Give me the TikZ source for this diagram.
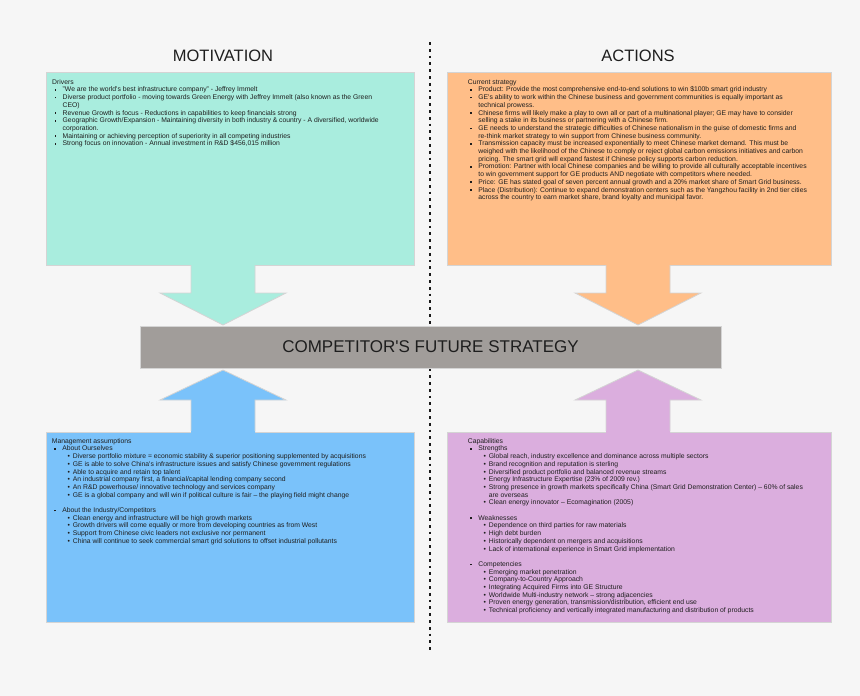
\documentclass[tikz,border=0pt]{standalone}
\usepackage{fontspec}
\setmainfont{Liberation Sans}
\usetikzlibrary{calc}
\definecolor{bgc}{HTML}{F6F6F6}
\definecolor{tealc}{HTML}{A9EDDE}
\definecolor{orngc}{HTML}{FFBE88}
\definecolor{bluc}{HTML}{7AC2FA}
\definecolor{purpc}{HTML}{DBAEDE}
\definecolor{barc}{HTML}{A19D9A}
\definecolor{edgec}{HTML}{D4D4D4}
\definecolor{txtc}{HTML}{1E1E1E}
\newcommand{\sqb}{\rule[1.2pt]{1.7pt}{1.7pt}}
\newcommand{\LA}[1]{\hspace*{2.3pt}\makebox[8.2pt][l]{\sqb}#1}
\newcommand{\LC}[1]{\hspace*{10.5pt}#1}
\newcommand{\LB}[1]{\hspace*{15.8pt}\makebox[5.2pt][l]{\textbullet}#1}
\newcommand{\LD}[1]{\hspace*{21pt}#1}
\newcommand{\firstline}{\rule{0pt}{5.5pt}}
\newcommand{\q}{\textquotesingle}
\newcommand{\blockarrow}[5]{%
  \fill[#1] ({#2-32},#3) -- ({#2-32},#4) -- ({#2-63},#4) -- (#2,#5) -- ({#2+63},#4) -- ({#2+32},#4) -- ({#2+32},#3) -- cycle;
  \draw[edgec, line width=0.8pt] ({#2-32},{#3+(#5-#3)/abs(#5-#3)*2}) -- ({#2-32},#4) -- ({#2-63},#4) -- (#2,#5) -- ({#2+63},#4) -- ({#2+32},#4) -- ({#2+32},{#3+(#5-#3)/abs(#5-#3)*2});
}
\begin{document}
\begin{tikzpicture}[x=1pt,y=-1pt,
  panel/.style={draw=edgec, line width=0.8pt, anchor=north west, inner sep=0pt},
  boxtext/.style={anchor=north west, inner sep=0pt, align=left, font=\fontsize{6.8}{7.7}\selectfont, text=txtc},
  title/.style={font=\fontsize{16.5}{20}\selectfont, text=txtc, inner sep=0pt},
  divider/.style={line width=1.6pt, dash pattern=on 2.8pt off 4pt, black!90}]
\fill[bgc] (0,0) rectangle (860,696);
\useasboundingbox (0,0) rectangle (860,696);

\node[title] (mot) at (223,56) {MOTIVATION};
\node[title] (act) at (638,56) {ACTIONS};

\coordinate (dtop) at (430,42);
\coordinate (dbot) at (430,650);
\draw[divider] (dtop) -- (dbot);

\node[panel, fill=tealc, minimum width=368pt, minimum height=193pt] (drv) at (46,71.5) {};
\node[panel, fill=orngc, minimum width=384pt, minimum height=193pt] (cur) at (446.5,71.5) {};
\node[panel, fill=bluc, minimum width=368pt, minimum height=190pt] (mgt) at (46,432) {};
\node[panel, fill=purpc, minimum width=384pt, minimum height=190pt] (cap) at (446.5,432) {};

\blockarrow{tealc}{223}{263}{293}{325}
\blockarrow{orngc}{638}{263}{293}{325}
\blockarrow{bluc}{223}{433}{400}{370}
\blockarrow{purpc}{638}{433}{400}{370}

\node[draw=edgec, line width=0.8pt, fill=barc, minimum width=581pt, minimum height=42pt, inner sep=0pt,
  font=\fontsize{17}{20}\selectfont, text=txtc] (cfs) at (430.5,347) {COMPETITOR\q S FUTURE STRATEGY};

\node[boxtext] (drvtext) at (52,78.5) {\firstline Drivers\\
\LA{"We are the world\q s best infrastructure company" - Jeffrey Immelt}\\
\LA{Diverse product portfolio - moving towards Green Energy with Jeffrey Immelt (also known as the Green}\\
\LC{CEO)}\\
\LA{Revenue Growth is focus - Reductions in capabilities to keep financials strong}\\
\LA{Geographic Growth/Expansion - Maintaining diversity in both industry \& country - A diversified, worldwide}\\
\LC{corporation.}\\
\LA{Maintaining or achieving perception of superiority in all competing industries}\\
\LA{Strong focus on innovation - Annual investment in R\&D \$456,015 million}};

\node[boxtext] (curtext) at (467.7,78.5) {\firstline Current strategy\\
\LA{Product: Provide the most comprehensive end-to-end solutions to win \$100b smart grid industry}\\
\LA{GE\q s ability to work within the Chinese business and government communities is equally important as}\\
\LC{technical prowess.}\\
\LA{Chinese firms will likely make a play to own all or part of a multinational player; GE may have to consider}\\
\LC{selling a stake in its business or partnering with a Chinese firm.}\\
\LA{GE needs to understand the strategic difficulties of Chinese nationalism in the guise of domestic firms and}\\
\LC{re-think market strategy to win support from Chinese business community.}\\
\LA{Transmission capacity must be increased exponentially to meet Chinese market demand. This must be}\\
\LC{weighed with the likelihood of the Chinese to comply or reject global carbon emissions initiatives and carbon}\\
\LC{pricing. The smart grid will expand fastest if Chinese policy supports carbon reduction.}\\
\LA{Promotion: Partner with local Chinese companies and be willing to provide all culturally acceptable incentives}\\
\LC{to win government support for GE products AND negotiate with competitors where needed.}\\
\LA{Price: GE has stated goal of seven percent annual growth and a 20\% market share of Smart Grid business.}\\
\LA{Place (Distribution): Continue to expand demonstration centers such as the Yangzhou facility in 2nd tier cities}\\
\LC{across the country to earn market share, brand loyalty and municipal favor.}};

\node[boxtext] (mgttext) at (51.7,437.5) {\firstline Management assumptions\\
\LA{About Ourselves}\\
\LB{Diverse portfolio mixture = economic stability \& superior positioning supplemented by acquisitions}\\
\LB{GE is able to solve China\q s infrastructure issues and satisfy Chinese government regulations}\\
\LB{Able to acquire and retain top talent}\\
\LB{An industrial company first, a financial/capital lending company second}\\
\LB{An R\&D powerhouse/ innovative technology and services company}\\
\LB{GE is a global company and will win if political culture is fair -- the playing field might change}\\
\mbox{}\\
\LA{About the Industry/Competitors}\\
\LB{Clean energy and infrastructure will be high growth markets}\\
\LB{Growth drivers will come equally or more from developing countries as from West}\\
\LB{Support from Chinese civic leaders not exclusive nor permanent}\\
\LB{China will continue to seek commercial smart grid solutions to offset industrial pollutants}};

\node[boxtext] (captext) at (467.7,437.5) {\firstline Capabilities\\
\LA{Strengths}\\
\LB{Global reach, industry excellence and dominance across multiple sectors}\\
\LB{Brand recognition and reputation is sterling}\\
\LB{Diversified product portfolio and balanced revenue streams}\\
\LB{Energy Infrastructure Expertise (23\% of 2009 rev.)}\\
\LB{Strong presence in growth markets specifically China (Smart Grid Demonstration Center) -- 60\% of sales}\\
\LD{are overseas}\\
\LB{Clean energy innovator -- Ecomagination (2005)}\\
\mbox{}\\
\LA{Weaknesses}\\
\LB{Dependence on third parties for raw materials}\\
\LB{High debt burden}\\
\LB{Historically dependent on mergers and acquisitions}\\
\LB{Lack of international experience in Smart Grid implementation}\\
\mbox{}\\
\LA{Competencies}\\
\LB{Emerging market penetration}\\
\LB{Company-to-Country Approach}\\
\LB{Integrating Acquired Firms into GE Structure}\\
\LB{Worldwide Multi-industry network -- strong adjacencies}\\
\LB{Proven energy generation, transmission/distribution, efficient end use}\\
\LB{Technical proficiency and vertically integrated manufacturing and distribution of products}};
\end{tikzpicture}
\end{document}
